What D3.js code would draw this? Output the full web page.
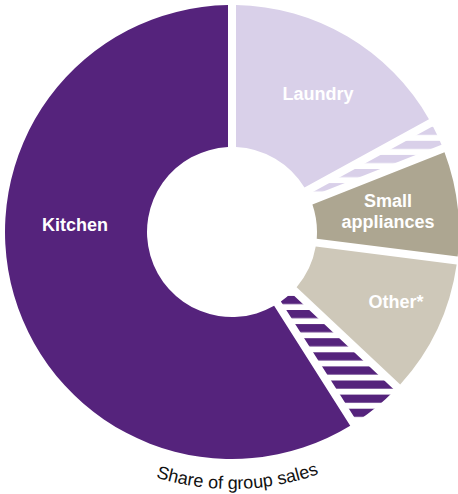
<!DOCTYPE html>
<html>
<head>
<meta charset="utf-8">
<script src="https://cdn.jsdelivr.net/npm/d3@7"></script>
<style>
  html, body { margin: 0; padding: 0; background: #fff; }
  svg { display: block; }
  text { font-family: "Liberation Sans", Arial, Helvetica, sans-serif; }
</style>
</head>
<body>
<div id="chart"></div>
<script>
// Segment data (share of group sales, %), clockwise from 12 o'clock
const segments = ['Laundry', 'Laundry (part)', 'Small appliances', 'Other*', 'Kitchen (part)', 'Kitchen'];
const shares = [17, 2, 8, 10, 4, 59];
const hatched = [false, true, false, false, true, false];
const colors = ['#d9d0e9', '#d9d0e9', '#ada691', '#cec8b9', '#55237c', '#55237c'];
const labels = [['Laundry'], [], ['Small', 'appliances'], ['Other*'], [], ['Kitchen']];
const caption = 'Share of group sales';

const width = 458;
const height = 494;
const cx = 232;
const cy = 232;
const outerR = 227;
const innerR = 85;
const gap = 8;

const svg = d3.select('#chart')
  .append('svg')
  .attr('width', width)
  .attr('height', height);

const defs = svg.append('defs');

const g = svg.append('g')
  .attr('transform', `translate(${cx},${cy})`);

// Horizontal stripe patterns for the hatched parts
colors.forEach((c, i) => {
  if (!hatched[i]) return;
  const p = defs.append('pattern')
    .attr('id', 'hatch' + i)
    .attr('patternUnits', 'userSpaceOnUse')
    .attr('x', 0)
    .attr('y', 310 - cy)
    .attr('width', 20)
    .attr('height', 14.1);
  p.append('rect').attr('width', 20).attr('height', 14.1).attr('fill', '#fff');
  p.append('rect').attr('width', 20).attr('height', 8.2).attr('fill', c);
});

const data = segments.map((s, i) => ({
  name: s,
  value: shares[i],
  color: colors[i],
  hatched: hatched[i],
  label: labels[i]
}));

const pie = d3.pie()
  .value((d) => d.value)
  .sort(null);

const arc = d3.arc()
  .innerRadius(innerR)
  .outerRadius(outerR)
  .padAngle(gap / outerR)
  .padRadius(outerR);

const arcs = pie(data);

g.selectAll('path.slice')
  .data(arcs)
  .enter()
  .append('path')
  .attr('class', 'slice')
  .attr('d', arc)
  .attr('fill', (d, i) => (d.data.hatched ? `url(#hatch${i})` : d.data.color));

// Label anchor positions (set per segment from the picture)
const labelPos = {
  'Laundry': [86, -138],
  'Small appliances': [156, -20.5],
  'Other*': [164, 70],
  'Kitchen': [-157, -7]
};

arcs.forEach((d) => {
  if (!d.data.label.length) return;
  const pos = labelPos[d.data.name];
  const t = g.append('text')
    .attr('text-anchor', 'middle')
    .attr('fill', '#fff')
    .style('font-weight', 'bold')
    .style('font-size', '18px');
  const n = d.data.label.length;
  d.data.label.forEach((line, k) => {
    t.append('tspan')
      .attr('x', pos[0])
      .attr('y', pos[1] + (k - (n - 1) / 2) * 21)
      .attr('dy', '0.35em')
      .text(line);
  });
});

// Curved caption under the ring
const captionR = 257;
defs.append('path')
  .attr('id', 'captionPath')
  .attr('d', `M${-captionR},0 A${captionR},${captionR} 0 0 0 ${captionR},0`);

g.append('text')
  .style('font-size', '18px')
  .attr('fill', '#111')
  .append('textPath')
  .attr('href', '#captionPath')
  .attr('startOffset', '50.7%')
  .attr('text-anchor', 'middle')
  .text(caption);
</script>
</body>
</html>
